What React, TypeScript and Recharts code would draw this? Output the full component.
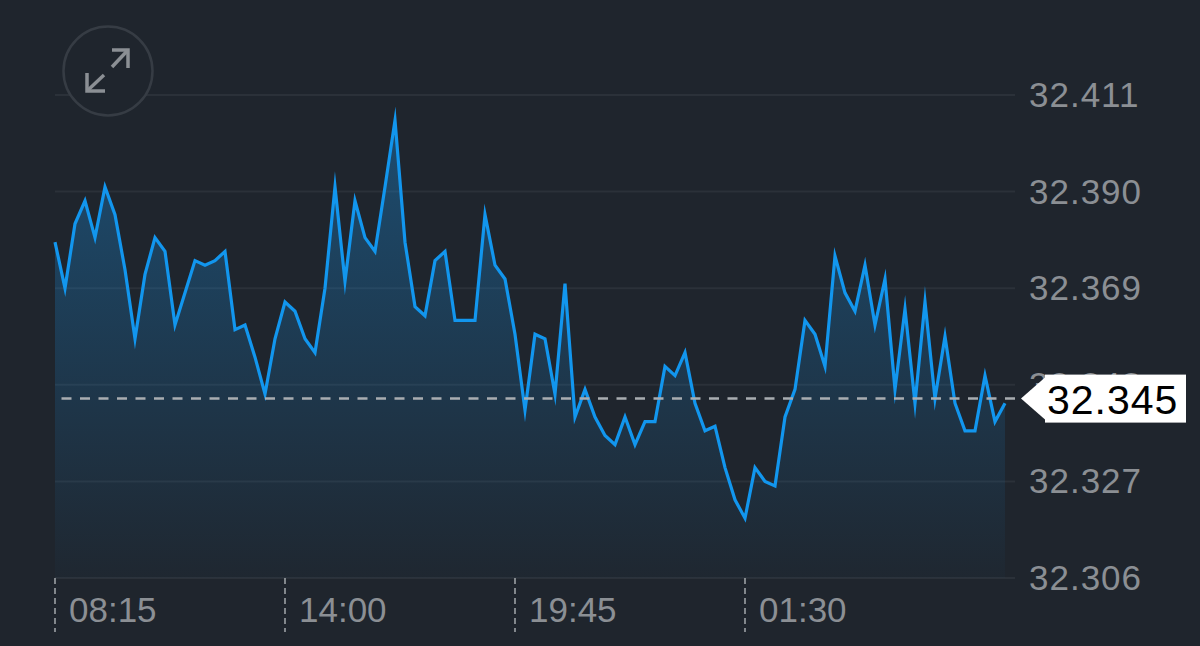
import { Area, AreaChart, CartesianGrid, ReferenceLine, XAxis, YAxis } from 'recharts';

const closes = [
  32.379, 32.369, 32.383, 32.388, 32.38, 32.391, 32.385, 32.373, 32.358, 32.372, 32.38, 32.377,
  32.361, 32.368, 32.375, 32.374, 32.375, 32.377, 32.36, 32.361, 32.354, 32.346, 32.358, 32.366,
  32.364, 32.358, 32.355, 32.369, 32.391, 32.3705, 32.388, 32.38, 32.377, 32.391, 32.4055, 32.379,
  32.365, 32.363, 32.375, 32.377, 32.362, 32.362, 32.362, 32.385, 32.374, 32.371, 32.359, 32.3425,
  32.359, 32.358, 32.346, 32.37, 32.341, 32.347, 32.341, 32.337, 32.335, 32.341, 32.335, 32.34,
  32.34, 32.352, 32.35, 32.355, 32.344, 32.338, 32.339, 32.33, 32.323, 32.319, 32.33, 32.327,
  32.326, 32.341, 32.347, 32.362, 32.359, 32.352, 32.376, 32.368, 32.364, 32.374, 32.361, 32.371,
  32.347, 32.3645, 32.344, 32.366, 32.345, 32.3585, 32.344, 32.338, 32.338, 32.35, 32.34, 32.344,
];
const priceTicks = [32.306, 32.327, 32.348, 32.369, 32.39, 32.411];
const timeSlots = [0, 23, 46, 69];
const timeLabels = ['08:15', '14:00', '19:45', '01:30'];
const lastPrice = 32.345;

const chartData = closes.map((close, slot) => ({ slot, close }));

const FONT = '"Liberation Sans", Arial, sans-serif';
const BG = '#1f252d';
const MUTED = '#8b8f94';

function TimeTick({ x, y, payload }: any) {
  const label = timeLabels[timeSlots.indexOf(payload.value)];
  return (
    <g>
      <line x1={x} x2={x} y1={y} y2={y + 54} stroke="#a4a8ac" strokeWidth={1.5} strokeDasharray="6 4" />
      <text x={x + 14} y={y + 44} fill={MUTED} fontSize={35} fontFamily={FONT}>
        {label}
      </text>
    </g>
  );
}

// last price goes last in the tick list so the white tag covers the label under it
function PriceTick({ x, y, payload }: any) {
  if (payload.value !== lastPrice) {
    return (
      <text x={x + 14} y={y + 12} fill={MUTED} fontSize={35} letterSpacing={1} fontFamily={FONT}>
        {payload.value.toFixed(3)}
      </text>
    );
  }
  return (
    <g>
      <polygon points={`${x + 6},${y} ${x + 30},${y - 21} ${x + 30},${y + 21}`} fill="#ffffff" />
      <rect x={x + 30} y={y - 24} width={141} height={48} fill="#ffffff" />
      <text x={x + 32} y={y + 15} fill="#000000" fontSize={41} letterSpacing={1} fontFamily={FONT}>
        {payload.value.toFixed(3)}
      </text>
    </g>
  );
}

function ExpandButton() {
  return (
    <svg width={1200} height={646} style={{ position: 'absolute', left: 0, top: 0, pointerEvents: 'none' }}>
      <circle cx={108} cy={71} r={44.5} fill={BG} stroke="#363c44" strokeWidth={2.5} />
      <g fill="none" stroke={MUTED} strokeWidth={3.5}>
        <path d="M112 50 H128 V68" />
        <path d="M128 50 L112 67" />
        <path d="M87 73 V91 H105" />
        <path d="M87 91 L104 75" />
      </g>
    </svg>
  );
}

export default function App() {
  return (
    <div style={{ position: 'absolute', left: 0, top: 0, width: 1200, height: 646, background: BG, overflow: 'hidden' }}>
      <AreaChart
        width={1200}
        height={646}
        data={chartData}
        margin={{ top: 95, right: 0, bottom: 0, left: 55 }}
      >
        <defs>
          <linearGradient id="closeFill" x1="0" y1="0" x2="0" y2="1">
            <stop offset="0%" stopColor="#1893e8" stopOpacity={0.36} />
            <stop offset="100%" stopColor="#1893e8" stopOpacity={0.02} />
          </linearGradient>
        </defs>
        <CartesianGrid vertical={false} stroke="#2b3139" strokeWidth={2} horizontalValues={priceTicks} />
        <XAxis
          dataKey="slot"
          type="number"
          domain={[0, 96]}
          ticks={timeSlots}
          interval={0}
          height={68}
          axisLine={false}
          tickLine={false}
          tickSize={0}
          tickMargin={0}
          tick={<TimeTick />}
        />
        <YAxis
          orientation="right"
          type="number"
          domain={[32.306, 32.411]}
          ticks={[...priceTicks, lastPrice]}
          interval={0}
          width={185}
          axisLine={false}
          tickLine={false}
          tickSize={0}
          tickMargin={0}
          tick={<PriceTick />}
        />
        <Area
          type="linear"
          dataKey="close"
          stroke="#1296ee"
          strokeWidth={3.2}
          strokeLinejoin="miter"
          strokeMiterlimit={12}
          fill="url(#closeFill)"
          fillOpacity={1}
          dot={false}
          activeDot={false}
          isAnimationActive={false}
        />
        <ReferenceLine y={lastPrice} stroke="#a9adb1" strokeWidth={2.5} strokeDasharray="10 8.5" />
      </AreaChart>
      <ExpandButton />
    </div>
  );
}
